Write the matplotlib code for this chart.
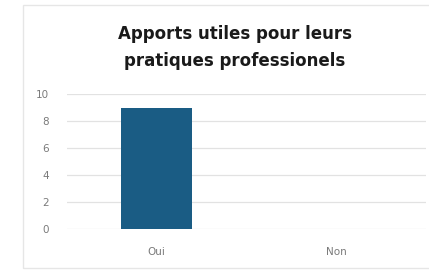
import matplotlib
matplotlib.use("Agg")
import matplotlib.pyplot as plt
from matplotlib.patches import Rectangle

categories = ["Oui", "Non"]
values = [9, 0]
yticks = [0, 2, 4, 6, 8, 10]
title = "Apports utiles pour leurs\npratiques professionels"

W, H = 429, 270
fig = plt.figure(figsize=(W / 100, H / 100), dpi=100)
fig.patch.set_facecolor("white")

# outer chart frame
fig.patches.append(Rectangle((23 / W, 1 - 268 / H), 1.2, (268 - 5) / H,
                             transform=fig.transFigure, fill=False,
                             edgecolor="#e6e6e6", linewidth=1.0))

ax = fig.add_axes([67 / W, 1 - 229.3 / H, (426 - 67) / W, (229.3 - 94) / H])
ax.bar(range(len(categories)), values, width=0.395, color="#1a5c84", zorder=3)
ax.set_xlim(-0.5, len(categories) - 0.5)
ax.set_ylim(0, 10)
ax.set_yticks(yticks)
ax.set_xticks(range(len(categories)))
ax.set_xticklabels(categories)
ax.grid(axis="y", color="#e2e2e2", linewidth=0.9, zorder=0)
ax.set_axisbelow(True)
for s in ax.spines.values():
    s.set_visible(False)
ax.tick_params(axis="both", length=0, labelsize=7.5, labelcolor="#7a7a7a",
               labelfontfamily="DejaVu Sans")
ax.tick_params(axis="y", pad=13)
ax.tick_params(axis="x", pad=13)

fig.text(235 / W, 1 - 47.5 / H, title, ha="center", va="center",
         fontsize=12, fontweight="bold", color="#1a1a1a",
         family="DejaVu Sans", linespacing=1.6)

fig.savefig("out.png", dpi=100, facecolor="white")
